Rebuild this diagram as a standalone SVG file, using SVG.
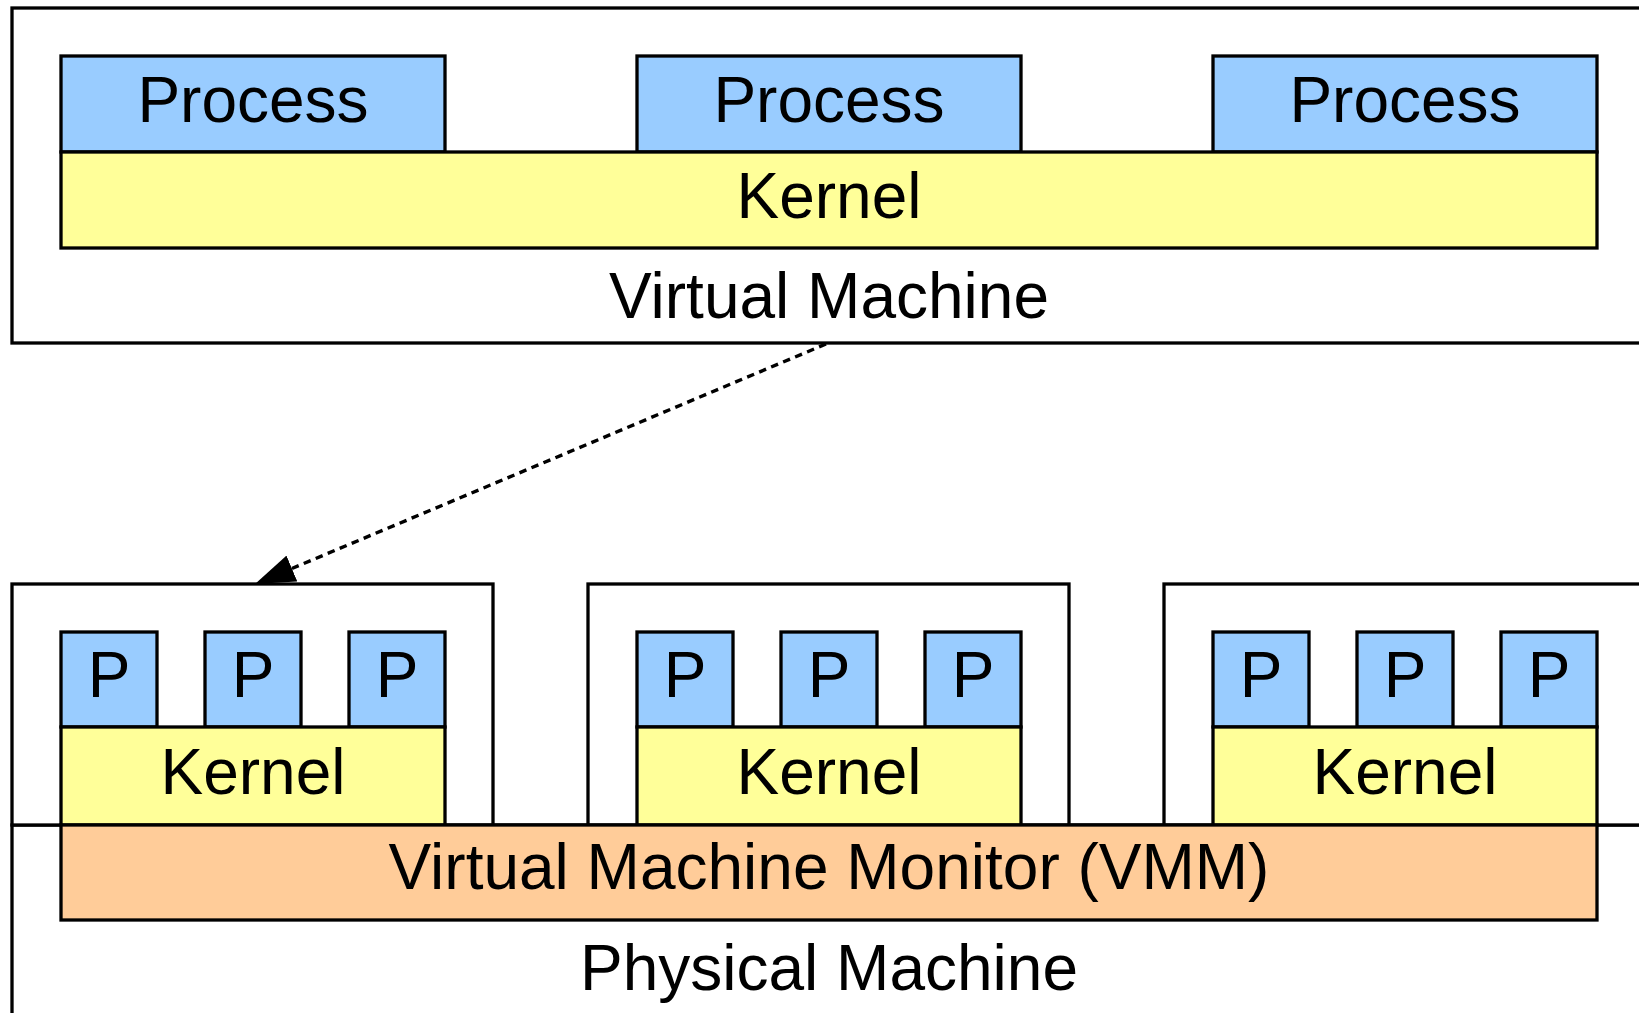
<svg xmlns="http://www.w3.org/2000/svg" width="1639" height="1013" viewBox="0 0 1639 1013">
  <style>
    .frame { fill: #ffffff; stroke: #000000; stroke-width: 3.3; }
    .proc { fill: #99ccff; stroke: #000000; stroke-width: 3.3; }
    .kern { fill: #ffff99; stroke: #000000; stroke-width: 3.3; }
    .vmm { fill: #ffcc99; stroke: #000000; stroke-width: 3.3; }
    .lbl { font-family: "Liberation Sans", Arial, Helvetica, sans-serif; font-size: 64px; fill: #000000; text-anchor: middle; }
    .link { fill: none; stroke: #000000; stroke-width: 3.4; stroke-dasharray: 7.5 5.5; }
  </style>
  <defs>
    <marker id="arrowhead" viewBox="0 0 40 28" markerWidth="40" markerHeight="28" refX="0" refY="14" orient="auto" markerUnits="userSpaceOnUse">
      <path d="M0,0 L40,14 L0,28 z" fill="#000000"/>
    </marker>
  </defs>

  <rect width="1639" height="1013" fill="#ffffff"/>

  <!-- Guest virtual machine, expanded view -->
  <g id="virtual-machine">
    <rect class="frame" x="12" y="8" width="1700" height="335"/>
    <text class="lbl" x="829" y="318">Virtual Machine</text>
  </g>
  <g id="process-1">
    <rect class="proc" x="61" y="56" width="384" height="96"/>
    <text class="lbl" x="253" y="122">Process</text>
  </g>
  <g id="process-2">
    <rect class="proc" x="637" y="56" width="384" height="96"/>
    <text class="lbl" x="829" y="122">Process</text>
  </g>
  <g id="process-3">
    <rect class="proc" x="1213" y="56" width="384" height="96"/>
    <text class="lbl" x="1405" y="122">Process</text>
  </g>
  <g id="kernel">
    <rect class="kern" x="61" y="152" width="1536" height="96"/>
    <text class="lbl" x="829" y="218">Kernel</text>
  </g>

  <!-- Physical host -->
  <g id="physical-machine">
    <rect class="frame" x="12" y="825" width="1700" height="300"/>
    <text class="lbl" x="829" y="990">Physical Machine</text>
  </g>

  <!-- Guest VM 1 -->
  <g id="vm-1">
    <rect class="frame" x="12" y="584" width="481" height="241"/>
    <rect class="proc" x="61" y="632" width="96" height="95"/>
    <text class="lbl" x="109" y="697">P</text>
    <rect class="proc" x="205" y="632" width="96" height="95"/>
    <text class="lbl" x="253" y="697">P</text>
    <rect class="proc" x="349" y="632" width="96" height="95"/>
    <text class="lbl" x="397" y="697">P</text>
    <rect class="kern" x="61" y="727" width="384" height="98"/>
    <text class="lbl" x="253" y="794">Kernel</text>
  </g>

  <!-- Guest VM 2 -->
  <g id="vm-2">
    <rect class="frame" x="588" y="584" width="481" height="241"/>
    <rect class="proc" x="637" y="632" width="96" height="95"/>
    <text class="lbl" x="685" y="697">P</text>
    <rect class="proc" x="781" y="632" width="96" height="95"/>
    <text class="lbl" x="829" y="697">P</text>
    <rect class="proc" x="925" y="632" width="96" height="95"/>
    <text class="lbl" x="973" y="697">P</text>
    <rect class="kern" x="637" y="727" width="384" height="98"/>
    <text class="lbl" x="829" y="794">Kernel</text>
  </g>

  <!-- Guest VM 3 -->
  <g id="vm-3">
    <rect class="frame" x="1164" y="584" width="481" height="241"/>
    <rect class="proc" x="1213" y="632" width="96" height="95"/>
    <text class="lbl" x="1261" y="697">P</text>
    <rect class="proc" x="1357" y="632" width="96" height="95"/>
    <text class="lbl" x="1405" y="697">P</text>
    <rect class="proc" x="1501" y="632" width="96" height="95"/>
    <text class="lbl" x="1549" y="697">P</text>
    <rect class="kern" x="1213" y="727" width="384" height="98"/>
    <text class="lbl" x="1405" y="794">Kernel</text>
  </g>

  <!-- Hypervisor layer -->
  <g id="vmm">
    <rect class="vmm" x="61" y="825" width="1536" height="95"/>
    <text class="lbl" x="829" y="889">Virtual Machine Monitor (VMM)</text>
  </g>

  <!-- Expansion link from guest VM 1 to the detailed view -->
  <g id="connectors">
    <path class="link" d="M826,344 L291.9,568.5" marker-end="url(#arrowhead)"/>
  </g>
</svg>
